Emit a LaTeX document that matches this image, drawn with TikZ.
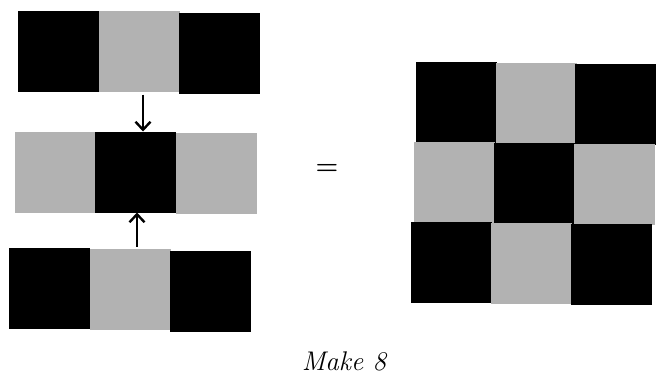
\documentclass[tikz,border=0pt]{standalone}
\usepackage{fontspec}
\usetikzlibrary{arrows.meta}
\begin{document}
\begin{tikzpicture}[x=1pt, y=-1pt, >={Straight Barb[length=8pt,width=15pt]}, line width=2.4pt]
                \tikzset{
                  casilla/.style={draw=none, inner sep=0pt, outer sep=0pt, minimum width=81pt, minimum height=81pt},
                  negra/.style={casilla, fill=black},
                  gris/.style={casilla, fill=black!30}
                }
                \useasboundingbox (0,0) rectangle (656,380);

                % Fila superior (negra, gris, negra)
                \node[negra] (s1) at (58,51) {};
                \node[gris]  (s2) at (139,51) {};
                \node[negra] (s3) at (219,53) {};

                % Fila central (gris, negra, gris)
                \node[gris]  (m1) at (55,172) {};
                \node[negra] (m2) at (135,172) {};
                \node[gris]  (m3) at (216,173) {};

                % Fila inferior (negra, gris, negra)
                \node[negra] (b1) at (49,288) {};
                \node[gris]  (b2) at (130,289) {};
                \node[negra] (b3) at (210,291) {};

                % Flechas hacia la casilla central
                \draw[->] (s2.south) ++(4,3) coordinate (f1) -- (f1 |- m2.north);
                \draw[->] (b2.north) ++(7,-2) coordinate (f2) -- (f2 |- m2.south);

                % Signo igual
                \node[font=\fontsize{26}{30}\selectfont\bfseries] (igual) at (327,169) {=};

                % Tablero 3x3 resultante
                \node[negra] (r11) at (456,102) {};
                \node[gris]  (r12) at (536,103) {};
                \node[negra] (r13) at (615,104) {};
                \node[gris]  (r21) at (454,182) {};
                \node[negra] (r22) at (534,183) {};
                \node[gris]  (r23) at (614,184) {};
                \node[negra] (r31) at (451,262) {};
                \node[gris]  (r32) at (531,263) {};
                \node[negra] (r33) at (611,264) {};

                % Titulo
                \node[font=\fontsize{27}{32}\selectfont\itshape] (titulo) at (344,361) {Make 8};
\end{tikzpicture}
\end{document}
